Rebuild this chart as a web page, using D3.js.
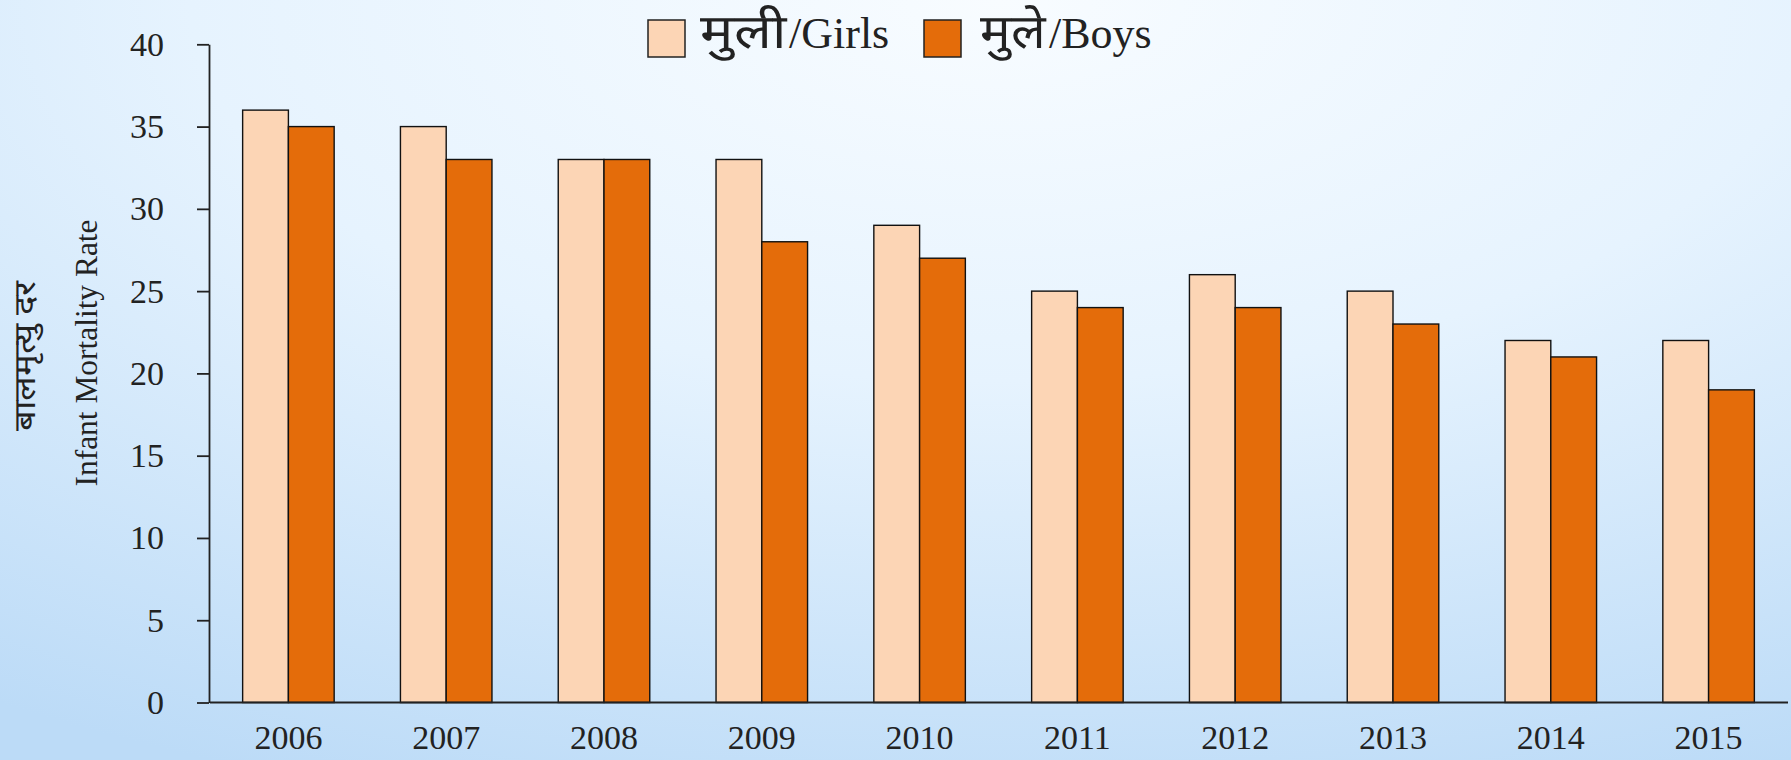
<!DOCTYPE html>
<html>
<head>
<meta charset="utf-8">
<script src="https://cdn.jsdelivr.net/npm/d3@7"></script>
<style>
  html, body { margin: 0; padding: 0; background: #e6f3fe; }
  svg { display: block; }
  text { font-family: "Liberation Serif", "Times New Roman", serif; fill: #222; }
</style>
</head>
<body>
<svg id="chart" width="1791" height="760"></svg>
<script>
const years = ['2006','2007','2008','2009','2010','2011','2012','2013','2014','2015'];
const girls = [36, 35, 33, 33, 29, 25, 26, 25, 22, 22];
const boys  = [35, 33, 33, 28, 27, 24, 24, 23, 21, 19];
const seriesKeys = ['girls', 'boys'];
const seriesLabelsNe = ['मुली', 'मुले'];
const seriesLabelsEn = ['/Girls', '/Boys'];
const seriesColors = ['#fcd5b5', '#e46c0a'];
const yTicks = [0, 5, 10, 15, 20, 25, 30, 35, 40];
const yTitleNe = 'बालमृत्यु दर';
const yTitleEn = 'Infant Mortality Rate';

const svg = d3.select('#chart');
const W = 1791, H = 760;

// background gradient
const defs = svg.append('defs');
const grad = defs.append('radialGradient')
  .attr('id', 'bg')
  .attr('gradientUnits', 'userSpaceOnUse')
  .attr('cx', 1000).attr('cy', 0).attr('r', 1800)
  .attr('gradientTransform', 'translate(1000,0) scale(1,0.47) translate(-1000,0)');
grad.append('stop').attr('offset', 0).attr('stop-color', '#f8fcff');
grad.append('stop').attr('offset', 0.45).attr('stop-color', '#e6f3fe');
grad.append('stop').attr('offset', 1).attr('stop-color', '#bcdbf7');
svg.append('rect').attr('width', W).attr('height', H).attr('fill', 'url(#bg)');

const data = years.map((yr, i) => ({ year: yr, girls: girls[i], boys: boys[i] }));

const x0 = d3.scaleBand().domain(years).range([209.5, 1787.5])
  .paddingInner(0.42).paddingOuter(0.21);
const x1 = d3.scaleBand().domain(seriesKeys).range([0, x0.bandwidth()]).padding(0);
const y = d3.scaleLinear().domain([0, 40]).range([702.5, 44.3]);

// bars
const groups = svg.append('g').selectAll('g').data(data).join('g')
  .attr('transform', d => `translate(${x0(d.year)},0)`);
groups.selectAll('rect')
  .data(d => seriesKeys.map((k, j) => ({ key: k, value: d[k], color: seriesColors[j] })))
  .join('rect')
  .attr('x', d => x1(d.key))
  .attr('y', d => y(d.value))
  .attr('width', x1.bandwidth())
  .attr('height', d => y(0) - y(d.value))
  .attr('fill', d => d.color)
  .attr('stroke', '#111')
  .attr('stroke-width', 1.4);

// axes
const yAxis = svg.append('g').attr('transform', 'translate(209,0)')
  .call(d3.axisLeft(y).tickValues(yTicks).tickSize(12).tickSizeOuter(0).tickPadding(33));
const xAxis = svg.append('g').attr('transform', 'translate(0,702)')
  .call(d3.axisBottom(x0).tickSize(0).tickSizeOuter(0).tickPadding(23));
[yAxis, xAxis].forEach(a => {
  a.selectAll('path, line').attr('stroke', '#222').attr('stroke-width', 1.8);
  a.selectAll('text').attr('font-size', 34).attr('font-family', '"Liberation Serif", serif').attr('fill', '#222');
});

// y titles
svg.append('text')
  .attr('transform', 'translate(35,356) rotate(-90)')
  .attr('text-anchor', 'middle')
  .attr('font-size', 30)
  .attr('textLength', 150)
  .attr('lengthAdjust', 'spacingAndGlyphs')
  .text(yTitleNe);
svg.append('text')
  .attr('transform', 'translate(97,353) rotate(-90)')
  .attr('text-anchor', 'middle')
  .attr('font-size', 32)
  .attr('textLength', 267)
  .attr('lengthAdjust', 'spacingAndGlyphs')
  .text(yTitleEn);

// legend
const legendX = [648, 924];
const legendNeX = [700, 980];
const legendNeW = [86, 66];
seriesKeys.forEach((k, i) => {
  svg.append('rect')
    .attr('x', legendX[i]).attr('y', 20).attr('width', 37).attr('height', 37)
    .attr('fill', seriesColors[i]).attr('stroke', '#222').attr('stroke-width', 1.5);
  svg.append('text')
    .attr('x', legendNeX[i]).attr('y', 48)
    .attr('font-size', 48)
    .attr('font-weight', 'normal')
    .attr('textLength', legendNeW[i])
    .attr('lengthAdjust', 'spacingAndGlyphs')
    .text(seriesLabelsNe[i]);
  svg.append('text')
    .attr('x', legendNeX[i] + legendNeW[i] + 3).attr('y', 48)
    .attr('font-size', 44)
    .attr('font-family', '"Liberation Serif", serif')
    .text(seriesLabelsEn[i]);
});
</script>
</body>
</html>
